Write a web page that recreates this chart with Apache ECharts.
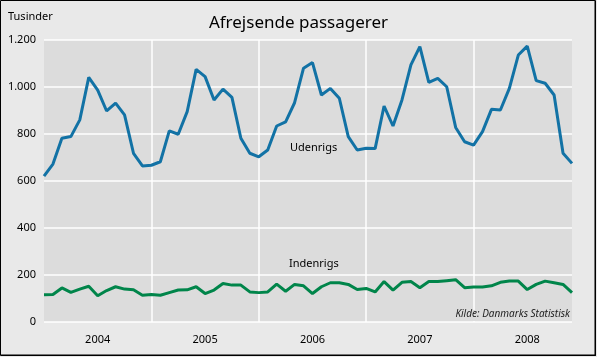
<!DOCTYPE html>
<html>
<head>
<meta charset="utf-8">
<script src="https://cdn.jsdelivr.net/npm/echarts@6/dist/echarts.min.js"></script>
<style>
  html, body { margin: 0; padding: 0; background: #ffffff; }
  #c { width: 597px; height: 357px; }
</style>
</head>
<body>
<div id="c"></div>
<script>
// ---- Data ----
const years = ['2004', '2005', '2006', '2007', '2008'];
const months = ['01', '02', '03', '04', '05', '06', '07', '08', '09', '10', '11', '12'];
const categories = [];
years.forEach(y => months.forEach(m => categories.push(y + '-' + m)));

// Udenrigs (thousand passengers)
const udenrigs = [
  621, 672, 782, 789, 860, 1041, 987, 898, 931, 881, 718, 664,
  667, 682, 813, 799, 895, 1075, 1044, 945, 991, 956, 782, 718,
  703, 732, 834, 852, 933, 1080, 1104, 966, 994, 952, 789, 732,
  739, 738, 919, 834, 945, 1094, 1172, 1020, 1037, 1001, 828, 767,
  753, 810, 905, 902, 994, 1136, 1174, 1027, 1016, 966, 718, 675
];
// Indenrigs (thousand passengers)
const indenrigs = [
  116, 117, 145, 126, 140, 152, 112, 134, 150, 140, 137, 114,
  117, 114, 125, 136, 137, 150, 121, 136, 164, 157, 157, 128,
  125, 128, 161, 131, 160, 154, 121, 150, 167, 167, 160, 138,
  143, 128, 172, 136, 169, 172, 146, 172, 172, 176, 180, 146,
  149, 149, 154, 169, 174, 174, 138, 160, 174, 167, 160, 125
];
const yTicks = [0, 200, 400, 600, 800, 1000, 1200];

const FONT = 'Noto Sans';
const chart = echarts.init(document.getElementById('c'), null, { renderer: 'canvas' });
chart.setOption({
  animation: false,
  backgroundColor: '#e9e9e9',
  title: {
    text: 'Afrejsende passagerer',
    left: 'center',
    top: 10,
    textStyle: { fontFamily: FONT, fontSize: 17, fontWeight: 'normal', color: '#000' }
  },
  grid: {
    left: 44, right: 25, top: 40, bottom: 35,
    show: true, backgroundColor: '#dcdcdc', borderWidth: 0,
    containLabel: false, outerBoundsMode: 'none'
  },
  xAxis: {
    type: 'category',
    data: categories,
    boundaryGap: false,
    axisLine: { show: false },
    axisTick: { show: false },
    axisLabel: {
      interval: (i) => i % 12 === 6,
      formatter: (v) => v.slice(0, 4),
      fontFamily: FONT, fontSize: 11, color: '#000', margin: 12
    },
    splitLine: {
      show: true,
      interval: (i) => i % 12 === 0 && i > 0,
      lineStyle: { color: '#ffffff', width: 1.5 }
    }
  },
  yAxis: {
    type: 'value',
    min: yTicks[0], max: yTicks[yTicks.length - 1], interval: 200,
    name: 'Tusinder',
    nameLocation: 'end',
    nameGap: 18,
    nameTextStyle: { fontFamily: FONT, fontSize: 11, color: '#000', align: 'left', padding: [0, 0, 0, -36] },
    axisLine: { show: false },
    axisTick: { show: false },
    axisLabel: {
      fontFamily: FONT, fontSize: 11, color: '#000', margin: 8,
      formatter: (v) => v.toString().replace(/\B(?=(\d{3})+(?!\d))/g, '.')
    },
    splitLine: { show: true, lineStyle: { color: '#ffffff', width: 1.5 } }
  },
  series: [
    {
      name: 'Udenrigs', type: 'line', data: udenrigs, symbol: 'none',
      lineStyle: { color: '#1272a5', width: 3 }
    },
    {
      name: 'Indenrigs', type: 'line', data: indenrigs, symbol: 'none',
      lineStyle: { color: '#00854a', width: 3 }
    }
  ],
  graphic: [
    { type: 'text', left: 290, top: 142, z: 50, style: { text: 'Udenrigs', fontFamily: FONT, fontSize: 11, fill: '#000' } },
    { type: 'text', left: 289, top: 258, z: 50, style: { text: 'Indenrigs', fontFamily: FONT, fontSize: 11, fill: '#000' } },
    { type: 'rect', z: 50, shape: { x: 452, y: 310, width: 120, height: 11 }, style: { fill: '#dcdcdc' } },
    { type: 'text', right: 27, top: 309, z: 51, style: { text: 'Kilde: Danmarks Statistisk', fontFamily: FONT, fontSize: 10, fontStyle: 'italic', fill: '#222' } },
    { type: 'rect', shape: { x: 0.5, y: 0.5, width: 595, height: 355 }, style: { fill: 'none', stroke: '#000', lineWidth: 1 }, z: 100 },
    { type: 'rect', shape: { x: 594.5, y: 1, width: 1, height: 355 }, style: { fill: '#000' }, z: 100 },
    { type: 'rect', shape: { x: 1, y: 354.5, width: 595, height: 1 }, style: { fill: '#000' }, z: 100 }
  ]
});
</script>
</body>
</html>
